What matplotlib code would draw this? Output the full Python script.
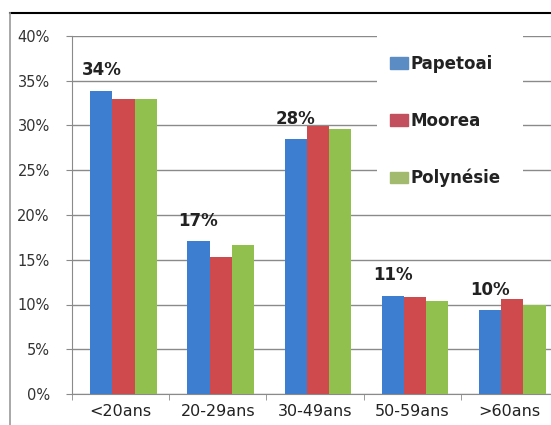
import numpy as np
import matplotlib
matplotlib.use('Agg')
import matplotlib.pyplot as plt
from matplotlib.patches import Rectangle
from matplotlib.lines import Line2D

# data (percent)
categories = ['<20ans', '20-29ans', '30-49ans', '50-59ans', '>60ans']
papetoai = [33.9, 17.1, 28.5, 11.0, 9.4]
moorea = [33.0, 15.3, 29.9, 10.8, 10.6]
polynesie = [33.0, 16.7, 29.6, 10.4, 9.9]
top_labels = ['34%', '17%', '28%', '11%', '10%']
series_names = ['Papetoai', 'Moorea', 'Polynésie']
colors = ['#3E7ED0', '#CF4A4C', '#92C04E']
legend_colors = ['#5B8CC4', '#C2505E', '#A2BA6E']

W, H = 551, 425
fig = plt.figure(figsize=(W / 100, H / 100), dpi=100)
ax = fig.add_axes([72 / W, 31 / H, 486 / W, 358 / H])

x = np.arange(len(categories))
bw = 0.228
for i, vals in enumerate([papetoai, moorea, polynesie]):
    ax.bar(x + (i - 1) * bw + 0.03, vals, bw, color=colors[i], zorder=3)

# labels above the Papetoai bars
for xi, v, lab in zip(x, papetoai, top_labels):
    ax.annotate(lab, (xi - bw + 0.03, v), xytext=(0, 14.5), textcoords='offset points',
                ha='center', va='center', fontsize=12, fontweight='bold', color='#222222')

ax.set_xlim(-0.5, 4.5)
ax.set_ylim(0, 40)
ax.set_yticks(np.arange(0, 41, 5))
ax.set_yticklabels(['%d%%' % t for t in range(0, 41, 5)])
ax.yaxis.grid(True, color='#8a8a8a', linewidth=1, zorder=0)
ax.set_axisbelow(True)

ax.set_xticks(x)
ax.set_xticklabels(categories)
ax.set_xticks(np.arange(-0.5, 5, 1), minor=True)
ax.tick_params(axis='x', which='major', length=0, pad=7, labelsize=11.5, labelcolor='#222222')
ax.tick_params(axis='x', which='minor', length=4, color='#8a8a8a', direction='out')
ax.tick_params(axis='y', length=4, color='#8a8a8a', pad=12, labelsize=10.5, labelcolor='#333333')

for s in ['top', 'right']:
    ax.spines[s].set_visible(False)
ax.spines['left'].set_color('#8a8a8a')
ax.spines['bottom'].set_color('#8a8a8a')

# white box behind the legend hiding the gridlines
ax.add_patch(Rectangle((377 / W, 1 - 207 / H), 146 / W, 180 / H, transform=fig.transFigure,
                       facecolor='white', edgecolor='none', zorder=2, clip_on=False))

handles = [Rectangle((0, 0), 1, 1, color=c) for c in legend_colors]
leg = fig.legend(handles, series_names, loc='upper left',
                 bbox_to_anchor=(375 / W, 1 - 40 / H), frameon=False,
                 prop={'size': 12, 'weight': 'bold'}, labelspacing=2.33,
                 handlelength=1.1, handleheight=0.7, handletextpad=0.15)
for t in leg.get_texts():
    t.set_color('#222222')

# outer frame of the picture (cut at right and bottom)
fig.add_artist(Line2D([10 / W, 1], [1 - 13 / H, 1 - 13 / H], transform=fig.transFigure,
                      color='black', linewidth=1.5))
fig.add_artist(Line2D([10 / W, 10 / W], [0, 1 - 13 / H], transform=fig.transFigure,
                      color='#999999', linewidth=1.2))

fig.savefig('out.png', dpi=100)
